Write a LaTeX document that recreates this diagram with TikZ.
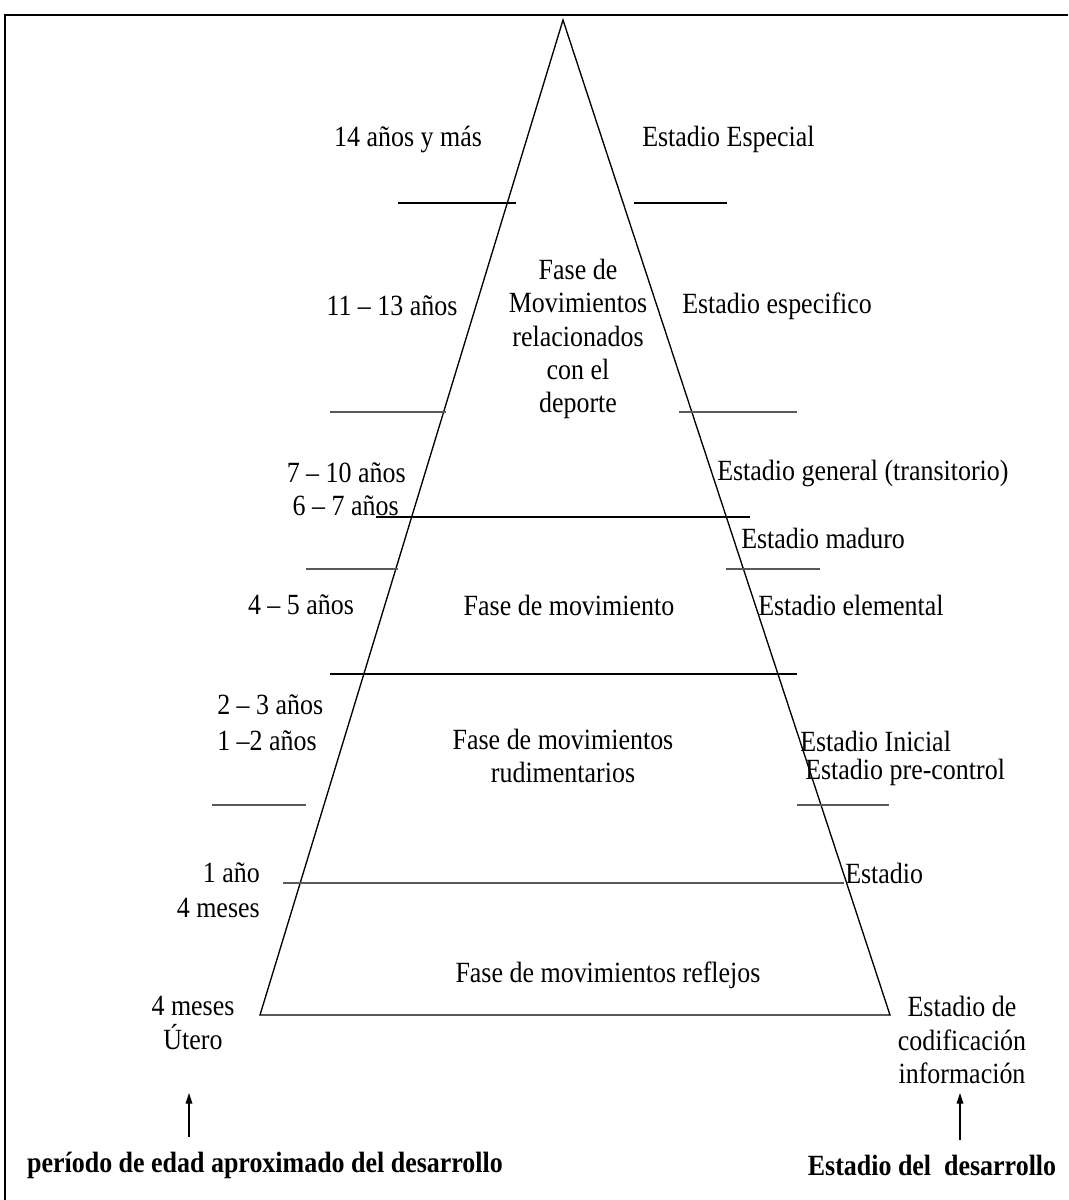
\documentclass[tikz,border=0pt]{standalone}
\usepackage{fontspec}
\setmainfont{Liberation Serif}[FakeStretch=0.885]
\usepackage{tikz}
\usetikzlibrary{arrows.meta}

\begin{document}
\begin{tikzpicture}[x=0.75pt,y=-0.75pt]
\useasboundingbox (0,0) rectangle (1068,1200);
% frame (only top and left side are visible)
\draw[line width=2.2pt] (1068,15) -- (5,15) -- (5,1200);
% pyramid
\coordinate (apex) at (563,20);
\coordinate (base_l) at (260,1015);
\coordinate (base_r) at (890,1015);
\draw[line width=1pt] (apex) -- (base_l) -- (base_r) -- cycle;
\begin{scope}[black_line/.style={draw=black,line width=1.3pt},
              gray_line/.style={draw=black!65,line width=1.7pt}]
    \draw[black_line] (398,203) -- (516,203);
    \draw[black_line] (634,203) -- (727,203);
    \draw[gray_line] (330,412) -- (446,412);
    \draw[gray_line] (679,412) -- (797,412);
    \draw[black_line] (376,517) -- (750,517);
    \draw[gray_line] (306,569) -- (398,569);
    \draw[gray_line] (726,569) -- (820,569);
    \draw[black_line] (330,674) -- (797,674);
    \draw[gray_line] (212,805) -- (306,805);
    \draw[gray_line] (797,805) -- (889,805);
    \draw[gray_line] (283,883) -- (844,883);
\end{scope}
\begin{scope}[every node/.style={inner sep=0pt,font=\fontsize{22}{25}\selectfont}]
    % age periods
    \node (age14) at (408,139) {14 años y más};
    \node (age11) at (392,306) {11 -- 13 años};
    \node[anchor=east] (age7) at (406,473) {7 -- 10 años};
    \node[anchor=east] (age6) at (399,506) {6 -- 7 años};
    \node (age4) at (301,605) {4 -- 5 años};
    \node[anchor=west] (age2) at (217,705) {2 -- 3 años};
    \node[anchor=west] (age1) at (217,741) {1 --2 años};
    \node[anchor=east] (age1y) at (260,873) {1 año};
    \node[anchor=east] (age4m) at (260,908) {4 meses};
    \node[align=center] (age0) at (193,1023) {4 meses\\Útero};
    % phases
    \node[align=center] (ph_sport) at (578,339) {Fase de\\Movimientos\\relacionados\\con el\\deporte};
    \node (ph_move) at (569,605) {Fase de movimiento};
    \node[align=center] (ph_rud) at (563,756) {Fase de movimientos\\rudimentarios};
    \node (ph_refl) at (608,975) {Fase de movimientos reflejos};
    % stages
    \node[anchor=west] (st_esp) at (642,139) {Estadio Especial};
    \node[anchor=west] (st_spec) at (682,306) {Estadio especifico};
    \node[anchor=west] (st_gen) at (717,473) {Estadio general (transitorio)};
    \node[anchor=west] (st_mad) at (741,538) {Estadio maduro};
    \node[anchor=west] (st_elem) at (758,605) {Estadio elemental};
    \node[anchor=west] (st_ini) at (800,741) {Estadio Inicial};
    \node[anchor=west] (st_pre) at (805,772) {Estadio pre-control};
    \node[anchor=west] (st_one) at (845,873) {Estadio};
    \node[align=center] (st_cod) at (962,1040) {Estadio de\\codificación\\información};
    % titles
    \node[font=\fontsize{22}{25}\selectfont\bfseries] (title_age) at (265,1165) {período de edad aproximado del desarrollo};
    \node[font=\fontsize{22}{25}\selectfont\bfseries] (title_st) at (932,1165) {Estadio del\ \ desarrollo};
\end{scope}
\begin{scope}[>={Triangle[length=8pt,width=5pt]},line width=0.9pt]
    \coordinate (arr_age) at (189,1093);
    \coordinate (arr_st) at (960,1093);
    \draw[->] (title_age.north -| arr_age) ++(0,-14) -- (arr_age);
    \draw[->] (title_st.north -| arr_st) ++(0,-14) -- (arr_st);
\end{scope}
\end{tikzpicture}
\end{document}
